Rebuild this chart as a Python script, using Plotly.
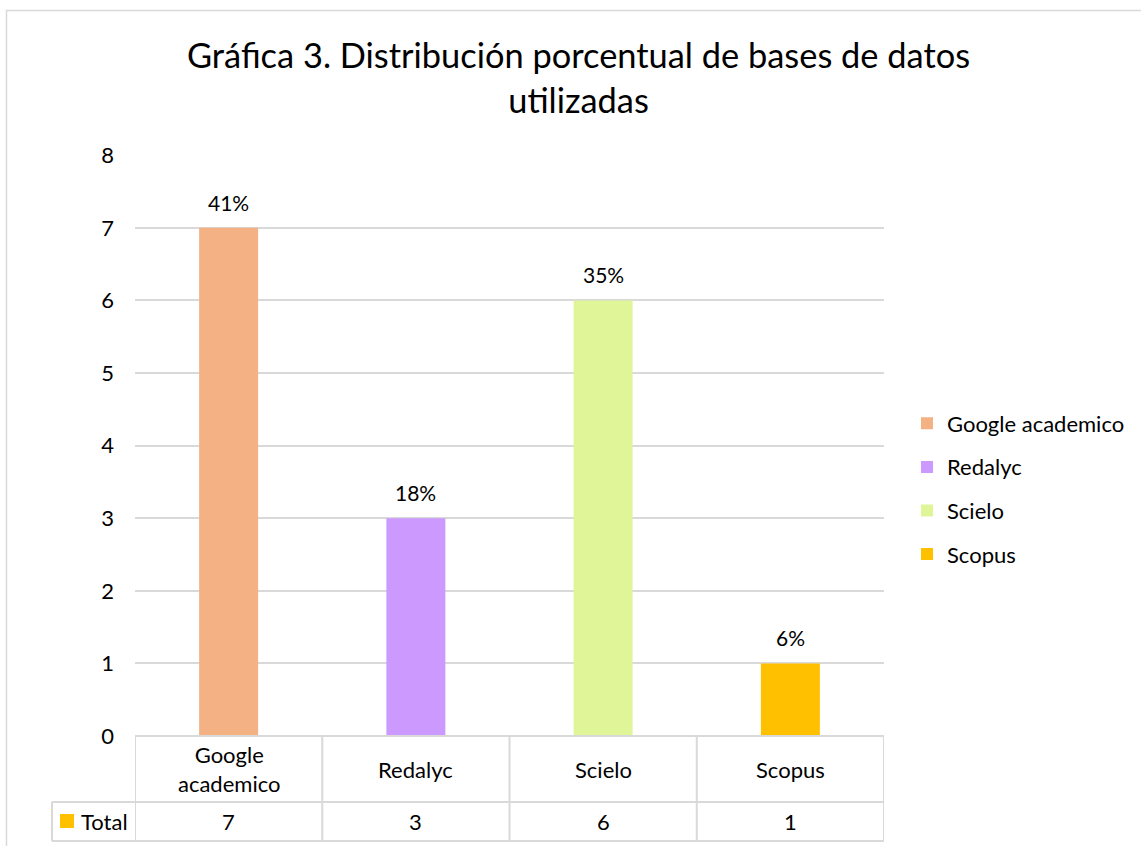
import plotly.graph_objects as go

# ---- data ----
categories = ["Google academico", "Redalyc", "Scielo", "Scopus"]
totals = [7, 3, 6, 1]
percent_labels = ["41%", "18%", "35%", "6%"]
bar_colors = ["#F4B183", "#CC99FF", "#DFF597", "#FFC000"]
series_name = "Total"
series_key_color = "#FFC000"
y_ticks = [0, 1, 2, 3, 4, 5, 6, 7, 8]
title_text = "Gráfica 3. Distribución porcentual de bases de datos<br>utilizadas"

# ---- geometry (pixels) ----
W, H = 1141, 846
ML, MR, MT, MB = 135, 257, 155, 110
PW, PH = W - ML - MR, H - MT - MB
FONT = "Lato, Calibri, Carlito, sans-serif"
GRID = "#D9D9D9"
TXT = "#000000"
FS = 22


def px_x(p):
    return (p - ML) / PW


def px_y(p):
    return (H - MB - p) / PH


fig = go.Figure()
for i, (cat, val, col) in enumerate(zip(categories, totals, bar_colors)):
    fig.add_trace(go.Bar(
        x=[cat], y=[val], name=cat, width=0.315,
        marker=dict(color=col, line=dict(width=0)),
        legendgroup=f"g{i}", hoverinfo="x+y",
    ))

annotations = []
# data labels
for cat, val, lab in zip(categories, totals, percent_labels):
    annotations.append(dict(x=cat, y=val, xref="x", yref="y", text=lab,
                            showarrow=False, yanchor="bottom", yshift=11,
                            font=dict(family=FONT, size=21, color=TXT)))

# data table: category row and value row
row1_y = px_y(769)
row2_y = px_y(821)
for cat, val in zip(categories, totals):
    label = cat.replace(" ", "<br>")
    annotations.append(dict(x=cat, y=row1_y, xref="x", yref="paper", text=label,
                            showarrow=False, yanchor="middle",
                            font=dict(family=FONT, size=FS, color=TXT)))
    annotations.append(dict(x=cat, y=row2_y, xref="x", yref="paper", text=str(val),
                            showarrow=False, yanchor="middle",
                            font=dict(family=FONT, size=FS, color=TXT)))
annotations.append(dict(x=px_x(79), y=row2_y, xref="paper", yref="paper",
                        text=series_name, showarrow=False, xanchor="left",
                        yanchor="middle", font=dict(family=FONT, size=FS, color=TXT)))
# chart title
annotations.append(dict(x=px_x(578), y=px_y(77), xref="paper", yref="paper",
                        text=title_text, showarrow=False, xanchor="center",
                        yanchor="middle", align="center",
                        font=dict(family=FONT, size=34.4, color=TXT)))

shapes = []
line = dict(color=GRID, width=2)
# outer chart border
shapes.append(dict(type="rect", xref="paper", yref="paper",
                   x0=px_x(6.5), x1=px_x(W + 10), y0=px_y(10.5), y1=px_y(H + 10),
                   line=dict(color=GRID, width=1.5), fillcolor="rgba(0,0,0,0)", layer="below"))
# table horizontal lines
shapes.append(dict(type="line", xref="paper", yref="paper", x0=0, x1=1, y0=0, y1=0, line=line))
for yy in (802, 841):
    shapes.append(dict(type="line", xref="paper", yref="paper",
                       x0=px_x(52), x1=1, y0=px_y(yy), y1=px_y(yy), line=line))
# table vertical lines at category boundaries
for k in range(len(categories) + 1):
    shapes.append(dict(type="line", xref="x", yref="paper",
                       x0=k - 0.5, x1=k - 0.5, y0=0, y1=px_y(841), line=line))
shapes.append(dict(type="line", xref="paper", yref="paper",
                   x0=px_x(52), x1=px_x(52), y0=px_y(802), y1=px_y(841), line=line))
# series key in the table
shapes.append(dict(type="rect", xref="paper", yref="paper",
                   x0=px_x(60), x1=px_x(74), y0=px_y(828), y1=px_y(814),
                   fillcolor=series_key_color, line=dict(width=0)))

fig.update_layout(
    width=W, height=H,
    margin=dict(l=ML, r=MR, t=MT, b=MB, pad=0, autoexpand=False),
    paper_bgcolor="white", plot_bgcolor="white",
    barmode="overlay",
    font=dict(family=FONT, size=FS, color=TXT),
    xaxis=dict(type="category", range=[-0.5, len(categories) - 0.5],
               showgrid=False, showticklabels=False, showline=False,
               zeroline=False, ticks="", fixedrange=True),
    yaxis=dict(range=[0, 8.003], tickvals=y_ticks, showgrid=True, gridcolor=GRID,
               gridwidth=2, zeroline=False, showline=False, ticks="",
               ticklabelstandoff=20, tickfont=dict(family=FONT, size=FS, color=TXT),
               fixedrange=True),
    legend=dict(xref="container", yref="container",
                x=907 / W, xanchor="left", y=1 - 489 / H, yanchor="middle",
                font=dict(family=FONT, size=FS, color=TXT),
                tracegroupgap=12, bgcolor="rgba(0,0,0,0)", itemclick=False),
    showlegend=True,
    annotations=annotations,
    shapes=shapes,
)

fig.write_html("out.html", include_plotlyjs=True,
               config={"displayModeBar": False},
               post_script="document.body.style.margin='0';document.body.style.overflow='hidden';")
